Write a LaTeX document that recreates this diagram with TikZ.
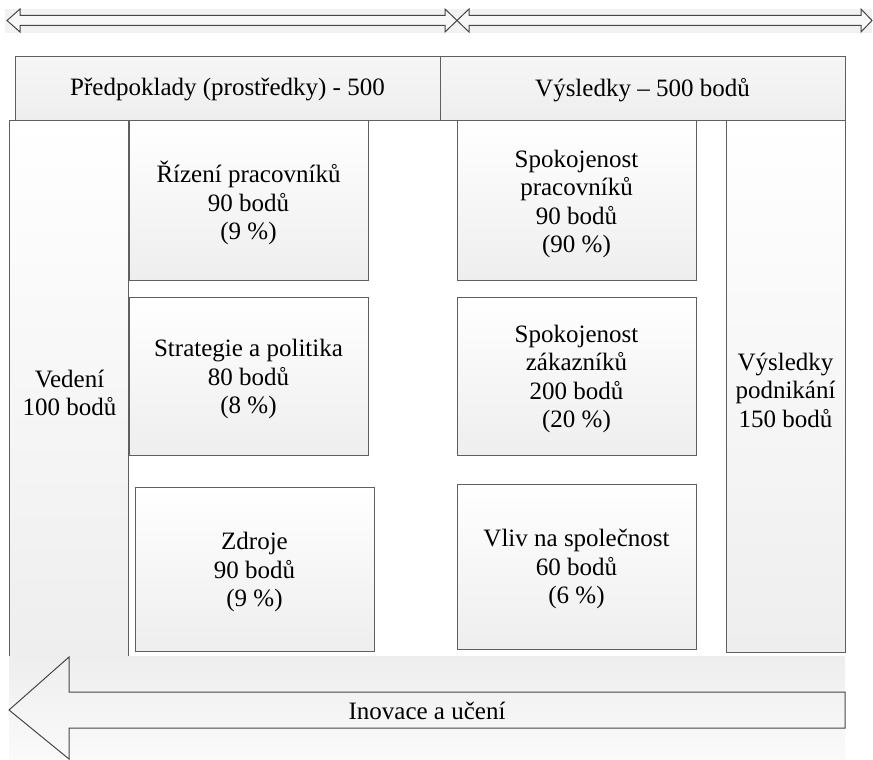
\documentclass[tikz,border=0pt]{standalone}
\usepackage{fontspec}
\setmainfont{Liberation Serif}
\definecolor{edgegray}{RGB}{95,95,95}
\definecolor{arrowgray}{RGB}{70,70,70}
\definecolor{shadegray}{RGB}{238,238,238}
\definecolor{bandgray}{RGB}{242,242,242}
\tikzset{every picture/.style={line width=0.75pt}}
\tikzset{
  areabox/.style={draw=edgegray, top color=white, bottom color=shadegray},
  headbox/.style={draw=edgegray, top color=bandgray!70!white, bottom color=shadegray},
  txt/.style={inner sep=0.75pt, align=center, font=\fontsize{18.75}{21.4}\selectfont},
}

\begin{document}
\begin{tikzpicture}[x=0.75pt,y=0.75pt,yscale=-1,xscale=1]
\useasboundingbox (0,0) rectangle (873,759);

%Shape: band behind the top arrows
\fill [bandgray] (5,9) rectangle (872,33);
%Shape: Left-Right Arrow
\draw [draw=arrowgray, fill=bandgray!50!white] (7,20.5) -- (20,9) -- (20,15.5) -- (445,15.5) -- (445,9) -- (457,20.5) -- (445,32) -- (445,25.5) -- (20,25.5) -- (20,32) -- cycle ;
%Shape: Left-Right Arrow
\draw [draw=arrowgray, fill=bandgray!50!white] (457,20.5) -- (469,9) -- (469,15.5) -- (861,15.5) -- (861,9) -- (872,20.5) -- (861,32) -- (861,25.5) -- (469,25.5) -- (469,32) -- cycle ;

%Shape: Rectangle (headers)
\draw [headbox] (15,57) rectangle (440,121) ;
\draw [headbox] (440,57) rectangle (845,121) ;

%Shape: Rectangle (side columns)
\draw [areabox] (9,121) rectangle (128,657) ;
\draw [areabox] (726,121) rectangle (845,652) ;

%Shape: Rectangle (left boxes)
\draw [areabox] (129,121) rectangle (368,280) ;
\draw [areabox] (129,297) rectangle (368,455) ;
\draw [areabox] (135,487) rectangle (374,651) ;
%Shape: Rectangle (right boxes)
\draw [areabox] (457,121) rectangle (696,280) ;
\draw [areabox] (457,297) rectangle (696,455) ;
\draw [areabox] (457,484) rectangle (696,649) ;

%Shape: band behind the bottom arrow
\shade [top color=shadegray, bottom color=shadegray!30!white] (9,656.5) rectangle (845,759) ;
%Shape: Left Arrow
\draw [draw=arrowgray] (9,710) -- (69,657) -- (69,692) -- (845,692) -- (845,728) -- (69,728) -- (69,759) -- cycle ;

% Text Node
\draw (227.5,90) node (predpoklady) [txt] {Předpoklady (prostředky) - 500};
% Text Node
\draw (642.5,90) node (vysledky) [txt] {Výsledky – 500 bodů};
% Text Node
\draw (69.5,393) node (vedeni) [txt] {Vedení\\100 bodů};
% Text Node
\draw (248.5,203) node (rizeni) [txt] {Řízení pracovníků\\90 bodů\\(9 \%)};
% Text Node
\draw (248.5,379) node (strategie) [txt] {Strategie a politika\\80 bodů\\(8 \%)};
% Text Node
\draw (254.5,572) node (zdroje) [txt] {Zdroje\\90 bodů\\(9 \%)};
% Text Node
\draw (576.5,204) node (spokprac) [txt] {Spokojenost\\pracovníků\\90 bodů\\(90 \%)};
% Text Node
\draw (576.5,379) node (spokzak) [txt] {Spokojenost\\zákazníků\\200 bodů\\(20 \%)};
% Text Node
\draw (576.5,569) node (vliv) [txt] {Vliv na společnost\\60 bodů\\(6 \%)};
% Text Node
\draw (785.5,390) node (podnikani) [txt] {Výsledky\\podnikání\\150 bodů};
% Text Node
\draw (427,711) node (inovace) [txt] {Inovace a učení};

\end{tikzpicture}
\end{document}
